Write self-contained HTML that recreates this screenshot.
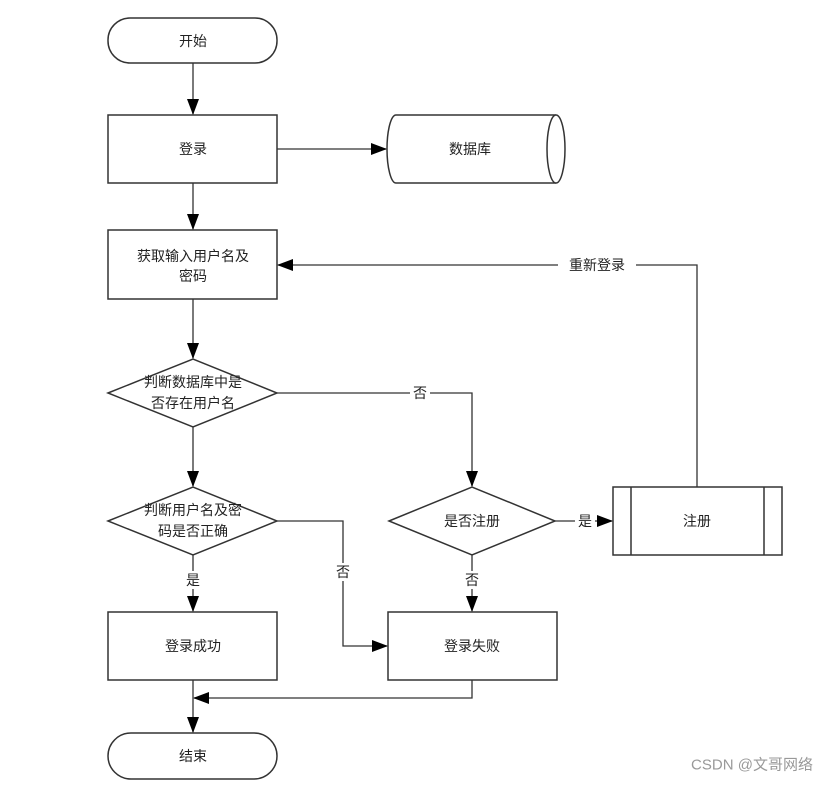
<!DOCTYPE html>
<html><head><meta charset="utf-8"><style>
body{margin:0;background:#fff;}
svg text{font-family:"Liberation Sans","Noto Sans CJK SC",sans-serif;font-size:14px;fill:#222;}
</style></head><body>
<svg width="813" height="783" viewBox="0 0 813 783" xmlns="http://www.w3.org/2000/svg">
<defs><marker id="a" markerWidth="10" markerHeight="10" refX="9" refY="5" orient="auto" markerUnits="userSpaceOnUse"><path d="M0,0 L10,5 L0,10 Z" fill="#000"/></marker>
<marker id="b" markerWidth="16" markerHeight="12" refX="15" refY="6" orient="auto" markerUnits="userSpaceOnUse"><path d="M0,0 L16,6 L0,12 Z" fill="#000"/></marker></defs>
<g fill="#fff" stroke="#333" stroke-width="1.5">
<rect x="108" y="18" width="169" height="45" rx="22"/>
<rect x="108" y="115" width="169" height="68"/>
<path d="M396,115 L556,115 A9,34 0 0 1 556,183 L396,183 A9,34 0 0 1 396,115 Z"/>
<path d="M556,115 A9,34 0 0 0 556,183"/>
<rect x="108" y="230" width="169" height="69"/>
<polygon points="108,393 193,359 277,393 193,427"/>
<polygon points="108,521 193,487 277,521 193,555"/>
<polygon points="389,521 472,487 555,521 472,555"/>
<rect x="613" y="487" width="169" height="68"/>
<line x1="631" y1="487" x2="631" y2="555"/><line x1="764" y1="487" x2="764" y2="555"/>
<rect x="108" y="612" width="169" height="68"/>
<rect x="388" y="612" width="169" height="68"/>
<rect x="108" y="733" width="169" height="46" rx="23"/>
</g>
<g fill="none" stroke="#333" stroke-width="1.3">
<line x1="193" y1="63" x2="193" y2="114" marker-end="url(#b)"/>
<line x1="277" y1="149" x2="386" y2="149" marker-end="url(#b)"/>
<line x1="193" y1="183" x2="193" y2="229" marker-end="url(#b)"/>
<line x1="193" y1="299" x2="193" y2="358" marker-end="url(#b)"/>
<line x1="193" y1="427" x2="193" y2="486" marker-end="url(#b)"/>
<line x1="193" y1="555" x2="193" y2="611" marker-end="url(#b)"/>
<polyline points="277,393 472,393 472,486" marker-end="url(#b)"/>
<polyline points="277,521 343,521 343,646 387,646" marker-end="url(#b)"/>
<line x1="555" y1="521" x2="612" y2="521" marker-end="url(#b)"/>
<line x1="472" y1="555" x2="472" y2="611" marker-end="url(#b)"/>
<polyline points="472,680 472,698 194,698" marker-end="url(#b)"/>
<line x1="193" y1="680" x2="193" y2="732" marker-end="url(#b)"/>
<polyline points="697,487 697,265 278,265" marker-end="url(#b)"/>
</g>
<g fill="#fff"><rect x="558" y="256" width="78" height="18"/><rect x="410" y="384" width="20" height="18"/><rect x="333" y="563" width="20" height="18"/><rect x="183" y="571" width="20" height="18"/><rect x="462" y="571" width="20" height="18"/><rect x="575" y="512" width="20" height="18"/></g>
<g text-anchor="middle" dominant-baseline="central">
<text x="193" y="41">开始</text><text x="193" y="149">登录</text><text x="470" y="149">数据库</text>
<text x="193" y="256">获取输入用户名及</text><text x="193" y="276">密码</text>
<text x="193" y="382">判断数据库中是</text><text x="193" y="403">否存在用户名</text>
<text x="193" y="510">判断用户名及密</text><text x="193" y="531">码是否正确</text>
<text x="472" y="521">是否注册</text><text x="697" y="521">注册</text>
<text x="193" y="646">登录成功</text><text x="472" y="646">登录失败</text><text x="193" y="756">结束</text>
<text x="597" y="265">重新登录</text><text x="420" y="393">否</text><text x="343" y="572">否</text>
<text x="193" y="580">是</text><text x="472" y="580">否</text><text x="585" y="521">是</text>
<text x="752" y="765" style="fill:#999;font-size:15px">CSDN @文哥网络</text>
</g>
</svg>
</body></html>
